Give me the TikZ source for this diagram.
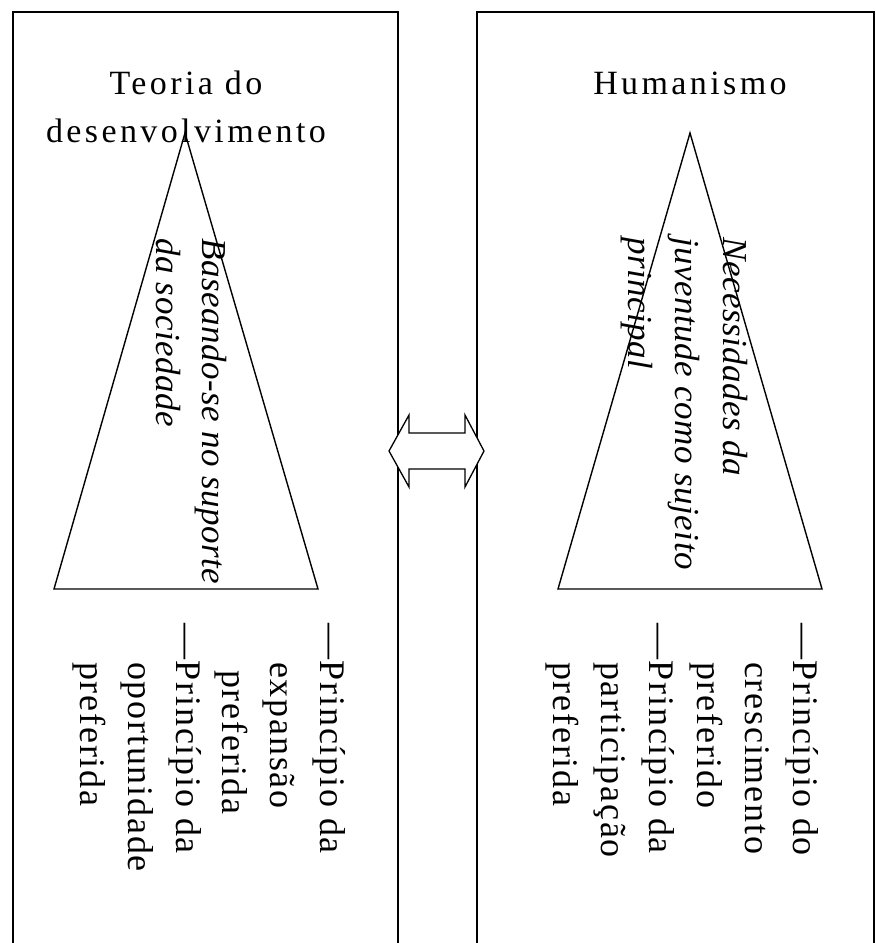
\documentclass[tikz,border=0pt]{standalone}
\usepackage{fontspec}
\setmainfont{Liberation Serif}
\begin{document}
\begin{tikzpicture}[x=1pt,y=-1pt,
  frame/.style={line width=1.6pt, line join=miter},
  tri/.style={line width=1.4pt, line join=miter},
  ttl/.style={anchor=base, inner sep=0pt, font=\fontsize{34}{48}\selectfont\addfontfeature{LetterSpace=10}},
  vtext/.style={rotate=-90, anchor=base west, inner sep=0pt, font=\fontsize{36}{48}\selectfont\addfontfeature{LetterSpace=5}},
  vital/.style={rotate=-90, anchor=base west, inner sep=0pt, font=\fontsize{35}{48}\selectfont\itshape\addfontfeature{LetterSpace=1.5}}]
\useasboundingbox (0,0) rectangle (876,943);
\fill[white] (0,0) rectangle (876,943);
% frames
\draw[frame] (13,960) -- (13,12) -- (398,12) -- (398,960);
\draw[frame] (477,960) -- (477,12) -- (874,12) -- (874,960);
% titles
\node[ttl] (t1) at (186,94) {Teoria do};
\node[ttl] (t2) at (186,142) {desenvolvimento};
\node[ttl] (t3) at (690,94) {Humanismo};
% triangles
\draw[tri] (185,133) -- (318,589) -- (54,589) -- cycle;
\draw[tri] (690,133) -- (822,589) -- (558,589) -- cycle;
% italic texts
\node[vital] (a1) at (202,238) {Baseando-se no suporte};
\node[vital] (a2) at (156,238) {da sociedade};
\node[vital] (b1) at (723,237) {Necessidades da};
\node[vital] (b2) at (675,237) {juventude como sujeito};
\node[vital] (b3) at (628,237) {principal};
% double arrow
\draw[line width=1.3pt, fill=white, line join=miter]
  (389,451) -- (409,415) -- (409,433) -- (465,433) -- (465,415) -- (484,451)
  -- (465,487) -- (465,469) -- (409,469) -- (409,487) -- cycle;
% bottom texts left
\node[vtext] (l1) at (320,623) {—Princípio da};
\node[vtext] (l2) at (270,662) {expansão};
\node[vtext] (l3) at (222,670) {preferida};
\node[vtext] (l4) at (176,623) {—Princípio da};
\node[vtext] (l5) at (128,662) {oportunidade};
\node[vtext] (l6) at (80,662) {preferida};
% bottom texts right
\node[vtext] (r1) at (793,623) {—Princípio do};
\node[vtext] (r2) at (745,662) {crescimento};
\node[vtext] (r3) at (697,662) {preferido};
\node[vtext] (r4) at (649,623) {—Princípio da};
\node[vtext] (r5) at (601,662) {participação};
\node[vtext] (r6) at (553,662) {preferida};
\end{tikzpicture}
\end{document}
